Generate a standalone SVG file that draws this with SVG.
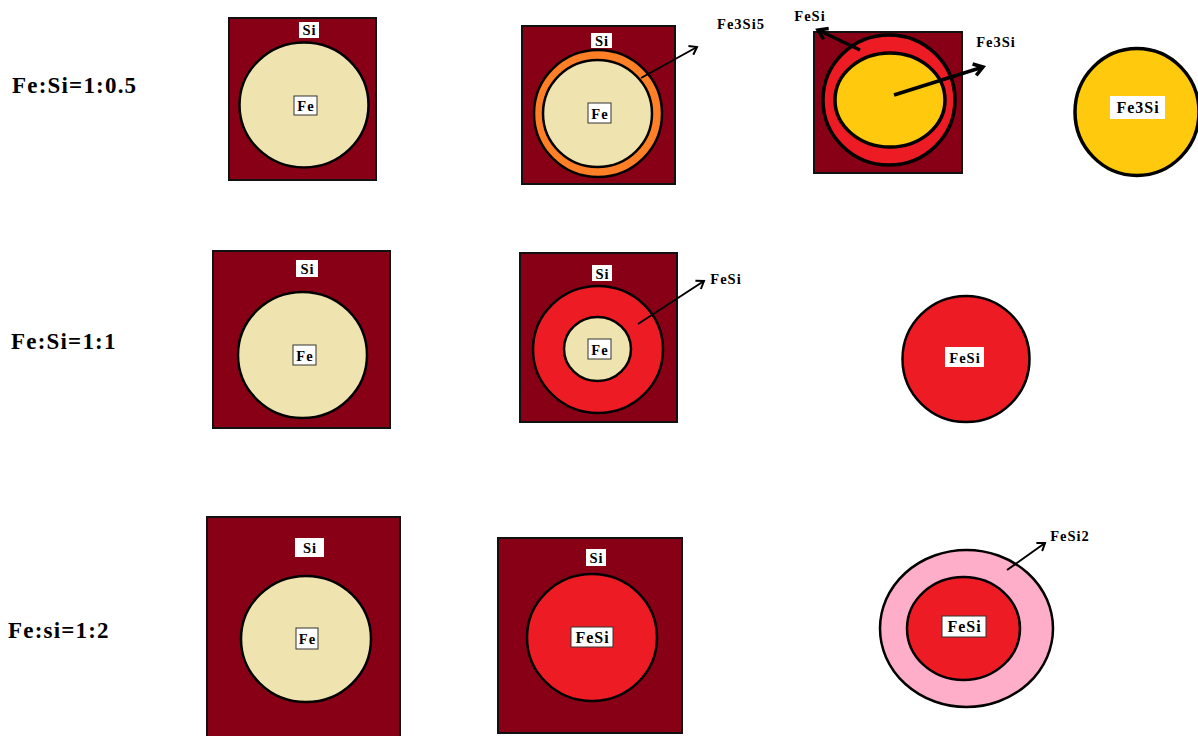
<svg xmlns="http://www.w3.org/2000/svg" width="1198" height="736" viewBox="0 0 1198 736">
<defs>
<style>
.box{fill:#880015;stroke:#111;stroke-width:2}
.fe{fill:#EFE4B0;stroke:#000;stroke-width:2.5}
.red{fill:#ED1C24;stroke:#000;stroke-width:2.5}
.org{fill:#FF7F27;stroke:#000;stroke-width:2.5}
.yel{fill:#FFC90E;stroke:#000;stroke-width:3.5}
.pink{fill:#FFAEC9;stroke:#000;stroke-width:2.5}
.lb{fill:#fff}
.lbb{fill:#fff;stroke:#333;stroke-width:1}
text{font-family:"Liberation Serif","Times New Roman",serif;font-weight:bold;fill:#000}
.t{font-size:14.5px;text-anchor:middle;letter-spacing:1px}
.tb{font-size:16px;text-anchor:middle;letter-spacing:1px}
.row{font-size:23px;letter-spacing:1.2px}
.ar{stroke:#000;stroke-width:2;fill:none}
.arT{stroke:#000;stroke-width:3.5;fill:none}
</style>
<marker id="ah" markerWidth="12" markerHeight="12" refX="9" refY="6" orient="auto" markerUnits="userSpaceOnUse">
<polyline points="2,1 9,6 2,11" fill="none" stroke="#000" stroke-width="2"/>
</marker>
<marker id="ahT" markerWidth="16" markerHeight="16" refX="12" refY="8" orient="auto" markerUnits="userSpaceOnUse">
<polyline points="3,2 12,8 3,14" fill="none" stroke="#000" stroke-width="3.5"/>
</marker>
</defs>
<rect width="1198" height="736" fill="#fff"/>

<g id="row-labels">
<text class="row" x="12" y="93">Fe:Si=1:0.5</text>
<text class="row" x="11" y="349">Fe:Si=1:1</text>
<text class="row" x="8" y="638">Fe:si=1:2</text>
</g>

<g id="r1c1">
<rect class="box" x="229" y="18" width="147" height="162"/>
<ellipse class="fe" cx="304" cy="105" rx="64.5" ry="62.5"/>
<rect class="lb" x="299" y="22" width="20" height="16"/>
<text class="t" x="309.5" y="35">Si</text>
<rect class="lbb" x="294" y="96" width="23" height="19"/>
<text class="t" x="306" y="110.5">Fe</text>
</g>

<g id="r1c2">
<rect class="box" x="522" y="26" width="153" height="158"/>
<ellipse class="org" cx="598" cy="113.5" rx="64" ry="63.5"/>
<ellipse class="fe" cx="597.5" cy="113.5" rx="54.5" ry="53.5"/>
<rect class="lb" x="591" y="33" width="21" height="15"/>
<text class="t" x="602" y="45.5">Si</text>
<rect class="lbb" x="588" y="103" width="23" height="20"/>
<text class="t" x="600" y="118.5">Fe</text>
</g>

<g id="r1c3">
<rect class="box" x="814" y="32" width="148" height="141"/>
<ellipse class="red" cx="889" cy="100" rx="66" ry="65" style="stroke-width:3.5"/>
<ellipse class="yel" cx="890" cy="100" rx="55" ry="47"/>
</g>

<g id="r1c4">
<ellipse class="yel" cx="1137" cy="112" rx="62" ry="63.5"/>
<rect class="lb" x="1110" y="96" width="55" height="23"/>
<text class="tb" x="1138" y="113">Fe3Si</text>
</g>

<g id="r2c1">
<rect class="box" x="213" y="251" width="177" height="177"/>
<ellipse class="fe" cx="302.5" cy="355" rx="64.5" ry="63"/>
<rect class="lb" x="296" y="260" width="22" height="17"/>
<text class="t" x="307.5" y="273.5">Si</text>
<rect class="lbb" x="293" y="345" width="23" height="20"/>
<text class="t" x="305" y="360.5">Fe</text>
</g>

<g id="r2c2">
<rect class="box" x="520" y="253" width="157" height="169"/>
<ellipse class="red" cx="598" cy="349.5" rx="65" ry="63.5"/>
<ellipse class="fe" cx="597.5" cy="349" rx="33.5" ry="32"/>
<rect class="lb" x="592" y="265" width="20" height="16"/>
<text class="t" x="602.5" y="278.5">Si</text>
<rect class="lbb" x="588" y="339" width="23" height="20"/>
<text class="t" x="600" y="354.5">Fe</text>
</g>

<g id="r2c4">
<ellipse class="red" cx="966" cy="359" rx="63.5" ry="63"/>
<rect class="lb" x="945" y="347" width="39" height="20"/>
<text class="t" x="965" y="362.5">FeSi</text>
</g>

<g id="r3c1">
<rect class="box" x="207" y="517" width="193" height="225"/>
<ellipse class="fe" cx="306" cy="639" rx="65" ry="63"/>
<rect class="lb" x="295" y="538" width="29" height="19"/>
<text class="t" x="310" y="552.5">Si</text>
<rect class="lbb" x="296" y="628" width="22" height="21"/>
<text class="t" x="307.5" y="643.5">Fe</text>
</g>

<g id="r3c2">
<rect class="box" x="498" y="538" width="184" height="195"/>
<ellipse class="red" cx="592" cy="637.5" rx="65" ry="63.5"/>
<rect class="lb" x="586" y="549" width="20" height="17"/>
<text class="t" x="596.5" y="562.5">Si</text>
<rect class="lbb" x="571" y="627" width="42" height="20"/>
<text class="tb" x="592.5" y="642.5">FeSi</text>
</g>

<g id="r3c4">
<ellipse class="pink" cx="966.5" cy="628.5" rx="86.5" ry="78.5"/>
<ellipse class="red" cx="963.5" cy="628.5" rx="56.5" ry="51.5"/>
<rect class="lbb" x="942" y="616" width="44" height="21"/>
<text class="tb" x="964.5" y="632">FeSi</text>
</g>

<g id="connectors">
<line class="ar" x1="641" y1="78" x2="697" y2="47" marker-end="url(#ah)"/>
<line class="arT" x1="860" y1="50" x2="818" y2="30" marker-end="url(#ahT)"/>
<line class="arT" x1="894" y1="95" x2="983" y2="67" marker-end="url(#ahT)"/>
<line class="ar" x1="638" y1="324" x2="704" y2="281" marker-end="url(#ah)"/>
<line class="ar" x1="1007" y1="570" x2="1045" y2="543" marker-end="url(#ah)"/>
</g>

<g id="callouts">
<text class="t" x="741" y="29">Fe3Si5</text>
<text class="t" x="810" y="21">FeSi</text>
<text class="t" x="996" y="47">Fe3Si</text>
<text class="t" x="726" y="284">FeSi</text>
<text class="t" x="1070" y="541">FeSi2</text>
</g>
</svg>
